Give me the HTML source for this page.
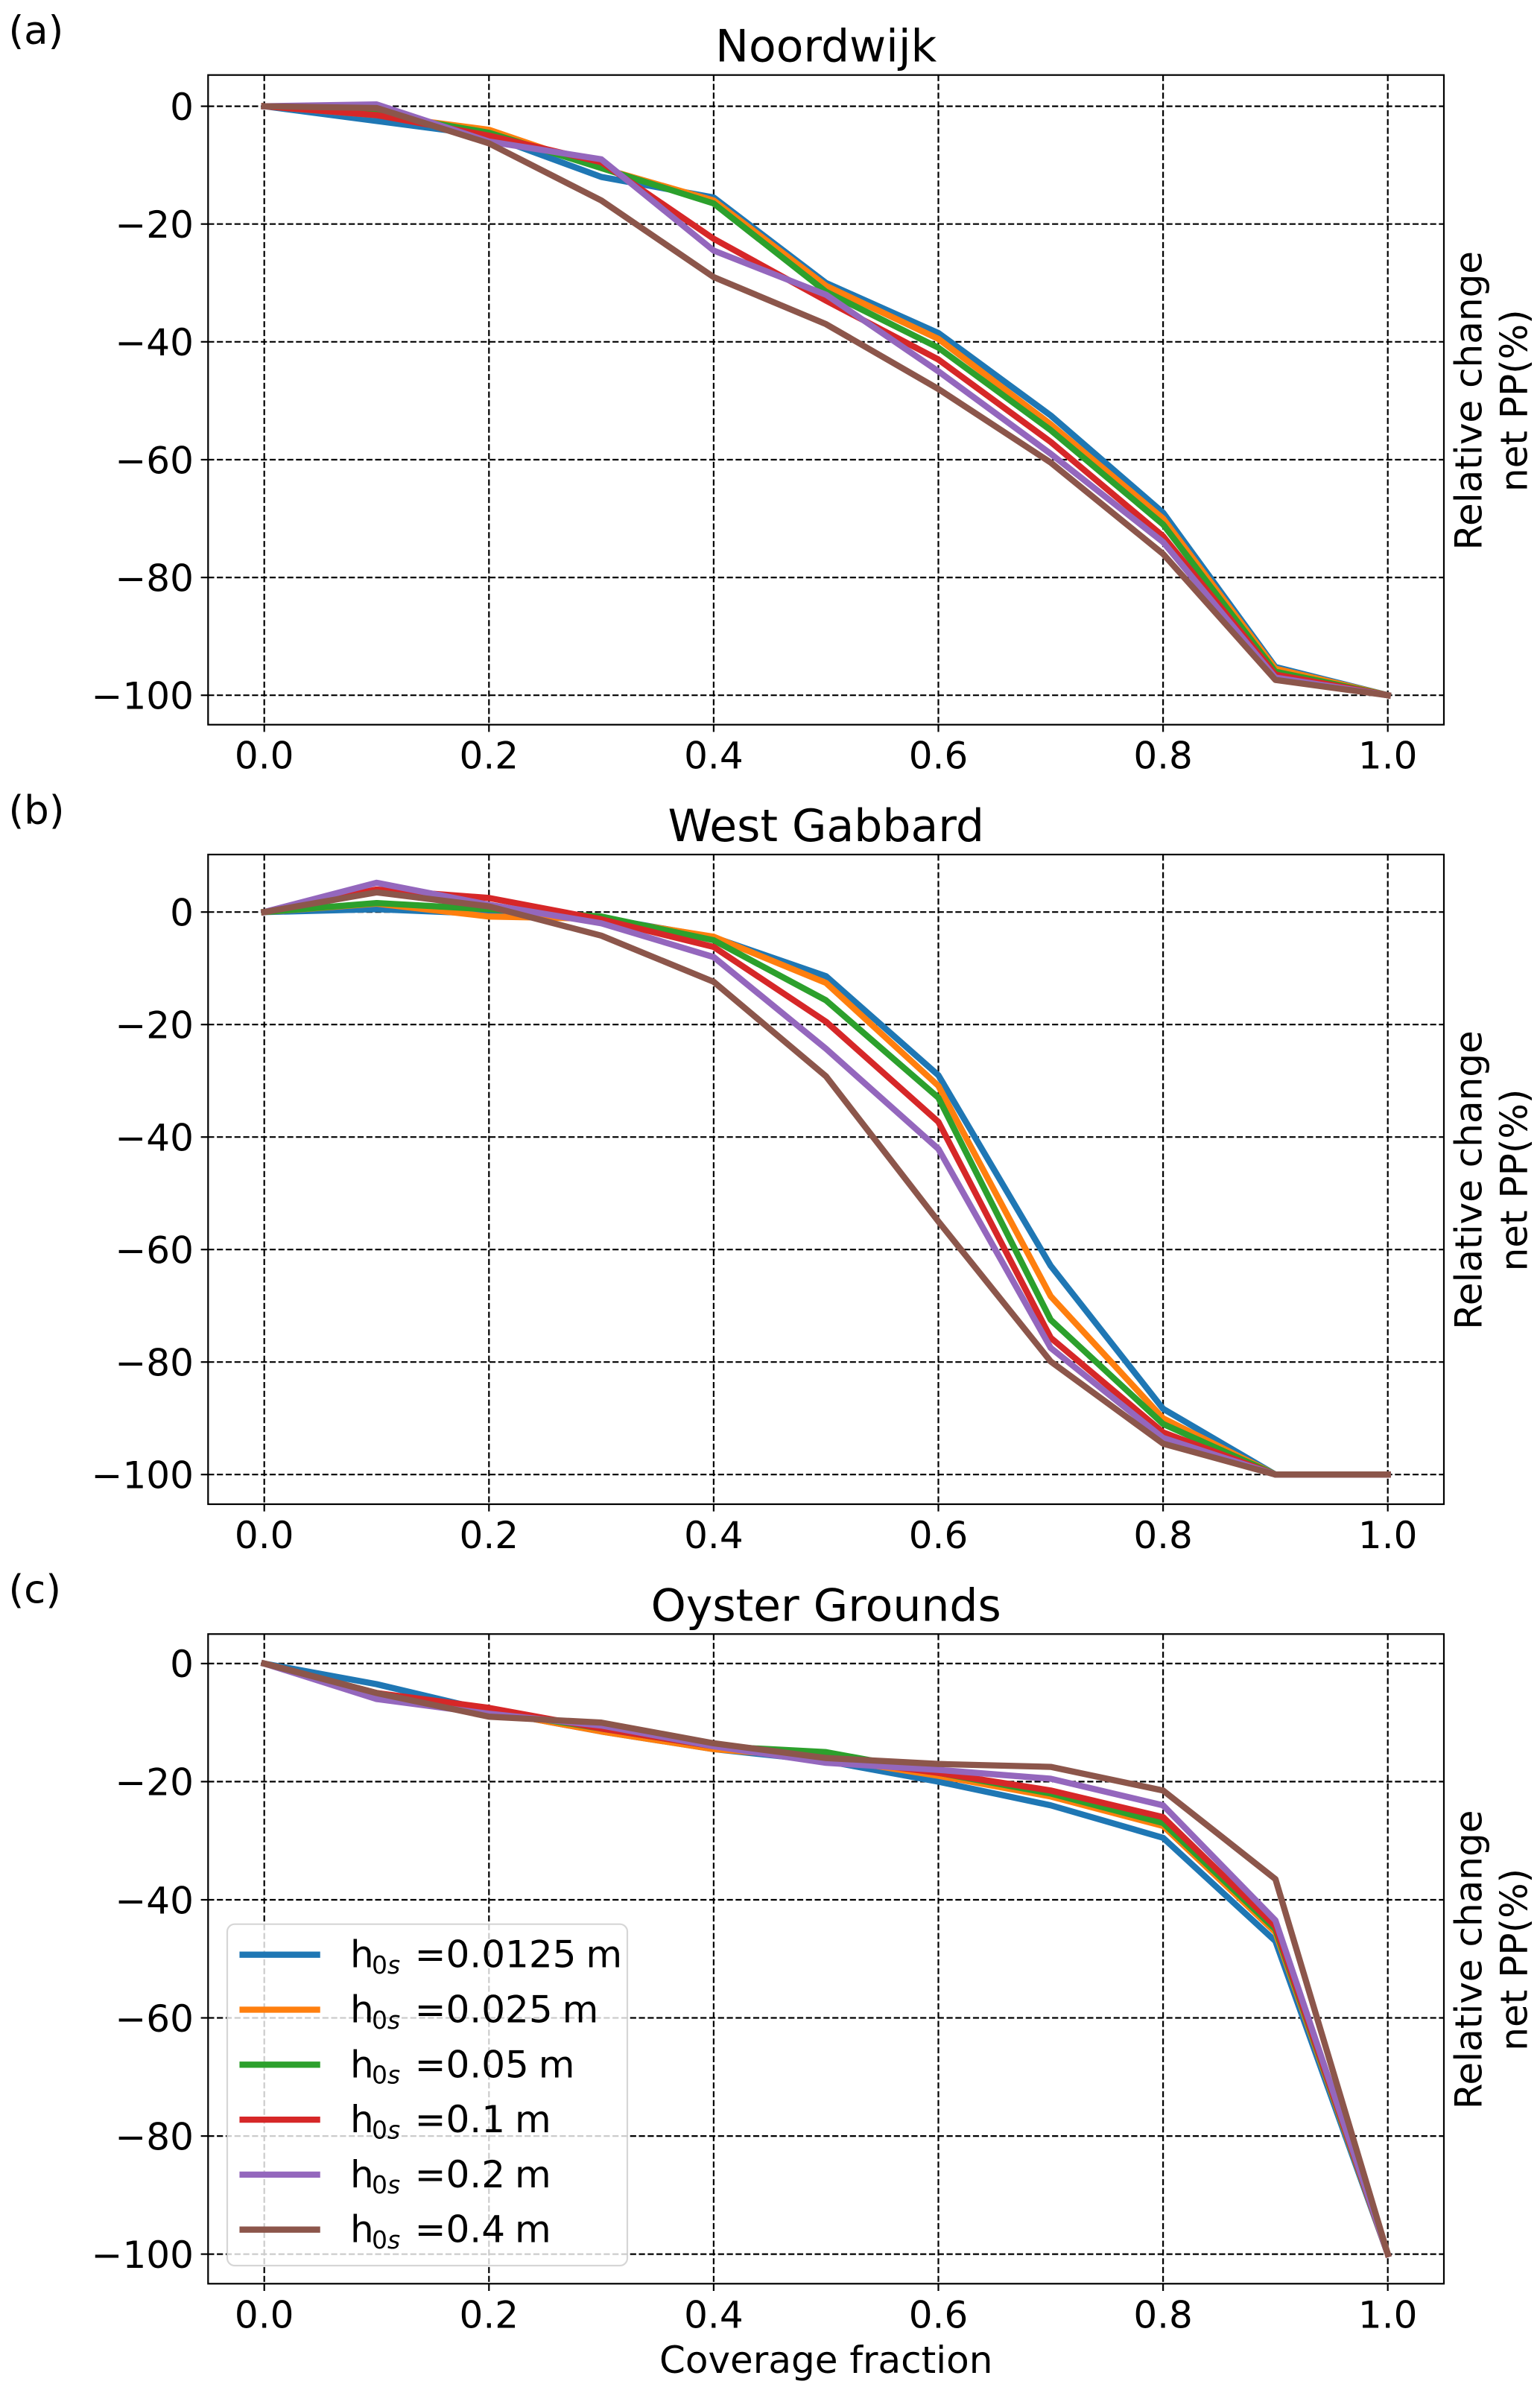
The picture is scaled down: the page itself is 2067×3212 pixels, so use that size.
<!DOCTYPE html>
<html>
<head>
<meta charset="utf-8">
<style>
html,body{margin:0;padding:0;background:#fff;}
svg{display:block;}
text{font-family:"DejaVu Sans","Liberation Sans",sans-serif;fill:#000;}
</style>
</head>
<body>
<svg xmlns="http://www.w3.org/2000/svg" width="2067" height="3212" viewBox="0 0 2067 3212">
<rect x="0" y="0" width="2067" height="3212" fill="#fff"/>

<!-- ================= PANEL A ================= -->
<g stroke="#000" stroke-width="2.2" stroke-dasharray="8.2,3.6" fill="none">
  <line x1="279.3" y1="142.6" x2="1938" y2="142.6"/>
  <line x1="279.3" y1="300.7" x2="1938" y2="300.7"/>
  <line x1="279.3" y1="458.8" x2="1938" y2="458.8"/>
  <line x1="279.3" y1="617.0" x2="1938" y2="617.0"/>
  <line x1="279.3" y1="775.1" x2="1938" y2="775.1"/>
  <line x1="279.3" y1="933.2" x2="1938" y2="933.2"/>
  <line x1="354.7" y1="100.7" x2="354.7" y2="972.7"/>
  <line x1="656.3" y1="100.7" x2="656.3" y2="972.7"/>
  <line x1="957.9" y1="100.7" x2="957.9" y2="972.7"/>
  <line x1="1259.5" y1="100.7" x2="1259.5" y2="972.7"/>
  <line x1="1561.1" y1="100.7" x2="1561.1" y2="972.7"/>
  <line x1="1862.7" y1="100.7" x2="1862.7" y2="972.7"/>
</g>
<g fill="none" stroke-width="8.3" stroke-linecap="square" stroke-linejoin="round">
  <polyline stroke="#1f77b4" points="354.7,142.6 505.5,162.4 656.3,182.1 807.1,237.5 957.9,265.1 1108.7,379.8 1259.5,447.0 1410.3,557.7 1561.1,688.1 1711.9,895.3 1862.7,933.2"/>
  <polyline stroke="#ff7f0e" points="354.7,142.6 505.5,154.5 656.3,174.2 807.1,225.6 957.9,269.1 1108.7,383.7 1259.5,454.9 1410.3,569.5 1561.1,696.0 1711.9,897.6 1862.7,933.2"/>
  <polyline stroke="#2ca02c" points="354.7,142.6 505.5,152.1 656.3,178.2 807.1,225.6 957.9,273.1 1108.7,391.6 1259.5,466.7 1410.3,577.4 1561.1,703.9 1711.9,901.6 1862.7,933.2"/>
  <polyline stroke="#d62728" points="354.7,142.6 505.5,154.5 656.3,182.1 807.1,217.7 957.9,320.5 1108.7,403.5 1259.5,482.6 1410.3,593.2 1561.1,719.7 1711.9,905.5 1862.7,933.2"/>
  <polyline stroke="#9467bd" points="354.7,142.6 505.5,140.2 656.3,190.0 807.1,213.8 957.9,336.3 1108.7,395.6 1259.5,498.4 1410.3,609.1 1561.1,727.6 1711.9,909.5 1862.7,933.2"/>
  <polyline stroke="#8c564b" points="354.7,142.6 505.5,145.0 656.3,192.4 807.1,269.1 957.9,371.9 1108.7,435.1 1259.5,522.1 1410.3,620.9 1561.1,743.5 1711.9,912.6 1862.7,933.2"/>
</g>
<g stroke="#000" stroke-width="2.2" fill="none">
  <rect x="279.3" y="100.7" width="1658.7" height="872"/>
  <line x1="269.6" y1="142.6" x2="279.3" y2="142.6"/>
  <line x1="269.6" y1="300.7" x2="279.3" y2="300.7"/>
  <line x1="269.6" y1="458.8" x2="279.3" y2="458.8"/>
  <line x1="269.6" y1="617.0" x2="279.3" y2="617.0"/>
  <line x1="269.6" y1="775.1" x2="279.3" y2="775.1"/>
  <line x1="269.6" y1="933.2" x2="279.3" y2="933.2"/>
  <line x1="354.7" y1="972.7" x2="354.7" y2="982.4"/>
  <line x1="656.3" y1="972.7" x2="656.3" y2="982.4"/>
  <line x1="957.9" y1="972.7" x2="957.9" y2="982.4"/>
  <line x1="1259.5" y1="972.7" x2="1259.5" y2="982.4"/>
  <line x1="1561.1" y1="972.7" x2="1561.1" y2="982.4"/>
  <line x1="1862.7" y1="972.7" x2="1862.7" y2="982.4"/>
</g>
<g font-size="50" text-anchor="end">
  <text x="259.9" y="160.9">0</text>
  <text x="259.9" y="319.0">−20</text>
  <text x="259.9" y="477.1">−40</text>
  <text x="259.9" y="635.3">−60</text>
  <text x="259.9" y="793.4">−80</text>
  <text x="259.9" y="951.5">−100</text>
</g>
<g font-size="50" text-anchor="middle">
  <text x="354.7" y="1031.7">0.0</text>
  <text x="656.3" y="1031.7">0.2</text>
  <text x="957.9" y="1031.7">0.4</text>
  <text x="1259.5" y="1031.7">0.6</text>
  <text x="1561.1" y="1031.7">0.8</text>
  <text x="1862.7" y="1031.7">1.0</text>
</g>
<text x="1108.7" y="82.7" font-size="60" text-anchor="middle">Noordwijk</text>
<text x="11.5" y="59" font-size="53">(a)</text>
<g font-size="50" text-anchor="middle">
  <text transform="translate(1988.5,537.7) rotate(-90)">Relative change</text>
  <text transform="translate(2049.5,537.7) rotate(-90)">net PP(%)</text>
</g>

<!-- ================= PANEL B ================= -->
<g stroke="#000" stroke-width="2.2" stroke-dasharray="8.2,3.6" fill="none">
  <line x1="279.3" y1="1224.2" x2="1938" y2="1224.2"/>
  <line x1="279.3" y1="1375.2" x2="1938" y2="1375.2"/>
  <line x1="279.3" y1="1526.2" x2="1938" y2="1526.2"/>
  <line x1="279.3" y1="1677.2" x2="1938" y2="1677.2"/>
  <line x1="279.3" y1="1828.2" x2="1938" y2="1828.2"/>
  <line x1="279.3" y1="1979.2" x2="1938" y2="1979.2"/>
  <line x1="354.7" y1="1147" x2="354.7" y2="2019"/>
  <line x1="656.3" y1="1147" x2="656.3" y2="2019"/>
  <line x1="957.9" y1="1147" x2="957.9" y2="2019"/>
  <line x1="1259.5" y1="1147" x2="1259.5" y2="2019"/>
  <line x1="1561.1" y1="1147" x2="1561.1" y2="2019"/>
  <line x1="1862.7" y1="1147" x2="1862.7" y2="2019"/>
</g>
<g fill="none" stroke-width="8.3" stroke-linecap="square" stroke-linejoin="round">
  <polyline stroke="#1f77b4" points="354.7,1224.2 505.5,1220.4 656.3,1226.5 807.1,1231.8 957.9,1258.2 1108.7,1310.3 1259.5,1443.2 1410.3,1699.1 1561.1,1890.9 1711.9,1979.2 1862.7,1979.2"/>
  <polyline stroke="#ff7f0e" points="354.7,1224.2 505.5,1212.9 656.3,1230.2 807.1,1233.3 957.9,1257.4 1108.7,1319.3 1259.5,1457.5 1410.3,1739.9 1561.1,1903.7 1711.9,1979.2 1862.7,1979.2"/>
  <polyline stroke="#2ca02c" points="354.7,1224.2 505.5,1212.1 656.3,1220.4 807.1,1230.2 957.9,1262.0 1108.7,1342.7 1259.5,1473.4 1410.3,1771.6 1561.1,1911.3 1711.9,1979.2 1862.7,1979.2"/>
  <polyline stroke="#d62728" points="354.7,1224.2 505.5,1194.0 656.3,1205.3 807.1,1234.0 957.9,1271.0 1108.7,1371.4 1259.5,1505.8 1410.3,1795.7 1561.1,1922.6 1711.9,1979.2 1862.7,1979.2"/>
  <polyline stroke="#9467bd" points="354.7,1224.2 505.5,1184.9 656.3,1214.4 807.1,1239.3 957.9,1284.6 1108.7,1407.7 1259.5,1542.1 1410.3,1809.3 1561.1,1930.1 1711.9,1979.2 1862.7,1979.2"/>
  <polyline stroke="#8c564b" points="354.7,1224.2 505.5,1197.8 656.3,1216.6 807.1,1255.9 957.9,1317.8 1108.7,1444.7 1259.5,1639.5 1410.3,1827.5 1561.1,1937.7 1711.9,1979.2 1862.7,1979.2"/>
</g>
<g stroke="#000" stroke-width="2.2" fill="none">
  <rect x="279.3" y="1147" width="1658.7" height="872"/>
  <line x1="269.6" y1="1224.2" x2="279.3" y2="1224.2"/>
  <line x1="269.6" y1="1375.2" x2="279.3" y2="1375.2"/>
  <line x1="269.6" y1="1526.2" x2="279.3" y2="1526.2"/>
  <line x1="269.6" y1="1677.2" x2="279.3" y2="1677.2"/>
  <line x1="269.6" y1="1828.2" x2="279.3" y2="1828.2"/>
  <line x1="269.6" y1="1979.2" x2="279.3" y2="1979.2"/>
  <line x1="354.7" y1="2019" x2="354.7" y2="2028.7"/>
  <line x1="656.3" y1="2019" x2="656.3" y2="2028.7"/>
  <line x1="957.9" y1="2019" x2="957.9" y2="2028.7"/>
  <line x1="1259.5" y1="2019" x2="1259.5" y2="2028.7"/>
  <line x1="1561.1" y1="2019" x2="1561.1" y2="2028.7"/>
  <line x1="1862.7" y1="2019" x2="1862.7" y2="2028.7"/>
</g>
<g font-size="50" text-anchor="end">
  <text x="259.9" y="1242.5">0</text>
  <text x="259.9" y="1393.5">−20</text>
  <text x="259.9" y="1544.5">−40</text>
  <text x="259.9" y="1695.5">−60</text>
  <text x="259.9" y="1846.5">−80</text>
  <text x="259.9" y="1997.5">−100</text>
</g>
<g font-size="50" text-anchor="middle">
  <text x="354.7" y="2078">0.0</text>
  <text x="656.3" y="2078">0.2</text>
  <text x="957.9" y="2078">0.4</text>
  <text x="1259.5" y="2078">0.6</text>
  <text x="1561.1" y="2078">0.8</text>
  <text x="1862.7" y="2078">1.0</text>
</g>
<text x="1108.7" y="1129" font-size="60" text-anchor="middle">West Gabbard</text>
<text x="11.5" y="1105.3" font-size="53">(b)</text>
<g font-size="50" text-anchor="middle">
  <text transform="translate(1988.5,1584) rotate(-90)">Relative change</text>
  <text transform="translate(2049.5,1584) rotate(-90)">net PP(%)</text>
</g>

<!-- ================= PANEL C ================= -->
<g stroke="#000" stroke-width="2.2" stroke-dasharray="8.2,3.6" fill="none">
  <line x1="279.3" y1="2232.9" x2="1938" y2="2232.9"/>
  <line x1="279.3" y1="2391.4" x2="1938" y2="2391.4"/>
  <line x1="279.3" y1="2550.0" x2="1938" y2="2550.0"/>
  <line x1="279.3" y1="2708.5" x2="1938" y2="2708.5"/>
  <line x1="279.3" y1="2867.1" x2="1938" y2="2867.1"/>
  <line x1="279.3" y1="3025.6" x2="1938" y2="3025.6"/>
  <line x1="354.7" y1="2193.3" x2="354.7" y2="3065.3"/>
  <line x1="656.3" y1="2193.3" x2="656.3" y2="3065.3"/>
  <line x1="957.9" y1="2193.3" x2="957.9" y2="3065.3"/>
  <line x1="1259.5" y1="2193.3" x2="1259.5" y2="3065.3"/>
  <line x1="1561.1" y1="2193.3" x2="1561.1" y2="3065.3"/>
  <line x1="1862.7" y1="2193.3" x2="1862.7" y2="3065.3"/>
</g>
<g fill="none" stroke-width="8.3" stroke-linecap="square" stroke-linejoin="round">
  <polyline stroke="#1f77b4" points="354.7,2232.9 505.5,2260.6 656.3,2296.3 807.1,2324.1 957.9,2347.8 1108.7,2363.7 1259.5,2391.4 1410.3,2423.2 1561.1,2466.8 1711.9,2605.5 1862.7,3025.6"/>
  <polyline stroke="#ff7f0e" points="354.7,2232.9 505.5,2272.5 656.3,2296.3 807.1,2324.1 957.9,2347.8 1108.7,2359.7 1259.5,2383.5 1410.3,2411.3 1561.1,2450.9 1711.9,2593.6 1862.7,3025.6"/>
  <polyline stroke="#2ca02c" points="354.7,2232.9 505.5,2272.5 656.3,2296.3 807.1,2320.1 957.9,2343.9 1108.7,2351.8 1259.5,2379.6 1410.3,2407.3 1561.1,2446.9 1711.9,2589.6 1862.7,3025.6"/>
  <polyline stroke="#d62728" points="354.7,2232.9 505.5,2272.5 656.3,2292.4 807.1,2320.1 957.9,2343.9 1108.7,2359.7 1259.5,2379.6 1410.3,2403.3 1561.1,2439.0 1711.9,2585.7 1862.7,3025.6"/>
  <polyline stroke="#9467bd" points="354.7,2232.9 505.5,2280.5 656.3,2300.3 807.1,2316.1 957.9,2343.9 1108.7,2366.1 1259.5,2375.6 1410.3,2387.5 1561.1,2423.2 1711.9,2577.7 1862.7,3025.6"/>
  <polyline stroke="#8c564b" points="354.7,2232.9 505.5,2272.5 656.3,2304.2 807.1,2312.2 957.9,2339.9 1108.7,2359.7 1259.5,2367.7 1410.3,2371.6 1561.1,2403.3 1711.9,2522.2 1862.7,3025.6"/>
</g>
<g stroke="#000" stroke-width="2.2" fill="none">
  <rect x="279.3" y="2193.3" width="1658.7" height="872"/>
  <line x1="269.6" y1="2232.9" x2="279.3" y2="2232.9"/>
  <line x1="269.6" y1="2391.4" x2="279.3" y2="2391.4"/>
  <line x1="269.6" y1="2550.0" x2="279.3" y2="2550.0"/>
  <line x1="269.6" y1="2708.5" x2="279.3" y2="2708.5"/>
  <line x1="269.6" y1="2867.1" x2="279.3" y2="2867.1"/>
  <line x1="269.6" y1="3025.6" x2="279.3" y2="3025.6"/>
  <line x1="354.7" y1="3065.3" x2="354.7" y2="3075"/>
  <line x1="656.3" y1="3065.3" x2="656.3" y2="3075"/>
  <line x1="957.9" y1="3065.3" x2="957.9" y2="3075"/>
  <line x1="1259.5" y1="3065.3" x2="1259.5" y2="3075"/>
  <line x1="1561.1" y1="3065.3" x2="1561.1" y2="3075"/>
  <line x1="1862.7" y1="3065.3" x2="1862.7" y2="3075"/>
</g>
<g font-size="50" text-anchor="end">
  <text x="259.9" y="2251.2">0</text>
  <text x="259.9" y="2409.7">−20</text>
  <text x="259.9" y="2568.3">−40</text>
  <text x="259.9" y="2726.8">−60</text>
  <text x="259.9" y="2885.4">−80</text>
  <text x="259.9" y="3043.9">−100</text>
</g>
<g font-size="50" text-anchor="middle">
  <text x="354.7" y="3124.3">0.0</text>
  <text x="656.3" y="3124.3">0.2</text>
  <text x="957.9" y="3124.3">0.4</text>
  <text x="1259.5" y="3124.3">0.6</text>
  <text x="1561.1" y="3124.3">0.8</text>
  <text x="1862.7" y="3124.3">1.0</text>
</g>
<text x="1108.7" y="2175.3" font-size="60" text-anchor="middle">Oyster Grounds</text>
<text x="11.5" y="2151.6" font-size="53">(c)</text>
<g font-size="50" text-anchor="middle">
  <text transform="translate(1988.5,2630.3) rotate(-90)">Relative change</text>
  <text transform="translate(2049.5,2630.3) rotate(-90)">net PP(%)</text>
</g>
<text x="1108.7" y="3185" font-size="50" text-anchor="middle">Coverage fraction</text>

<!-- Legend -->
<rect x="305" y="2582.7" width="537" height="458.3" rx="10" ry="10" fill="#fff" fill-opacity="0.8" stroke="#cccccc" stroke-opacity="0.8" stroke-width="2.2"/>
<g stroke-width="8.3" stroke-linecap="square">
  <line x1="325.6" y1="2623.7" x2="425.6" y2="2623.7" stroke="#1f77b4"/>
  <line x1="325.6" y1="2697.5" x2="425.6" y2="2697.5" stroke="#ff7f0e"/>
  <line x1="325.6" y1="2771.3" x2="425.6" y2="2771.3" stroke="#2ca02c"/>
  <line x1="325.6" y1="2845.1" x2="425.6" y2="2845.1" stroke="#d62728"/>
  <line x1="325.6" y1="2918.9" x2="425.6" y2="2918.9" stroke="#9467bd"/>
  <line x1="325.6" y1="2992.7" x2="425.6" y2="2992.7" stroke="#8c564b"/>
</g>
<g font-size="50">
  <text x="470" y="2640.7">h</text>
  <text x="499" y="2649" font-size="33">0<tspan font-style="italic">s</tspan></text>
  <text x="556.6" y="2640.7">=0.0125</text>
  <text x="786.4" y="2640.7">m</text>

  <text x="470" y="2714.5">h</text>
  <text x="499" y="2722.8" font-size="33">0<tspan font-style="italic">s</tspan></text>
  <text x="556.6" y="2714.5">=0.025</text>
  <text x="754.6" y="2714.5">m</text>

  <text x="470" y="2788.3">h</text>
  <text x="499" y="2796.6" font-size="33">0<tspan font-style="italic">s</tspan></text>
  <text x="556.6" y="2788.3">=0.05</text>
  <text x="722.8" y="2788.3">m</text>

  <text x="470" y="2862.1">h</text>
  <text x="499" y="2870.4" font-size="33">0<tspan font-style="italic">s</tspan></text>
  <text x="556.6" y="2862.1">=0.1</text>
  <text x="691" y="2862.1">m</text>

  <text x="470" y="2935.9">h</text>
  <text x="499" y="2944.2" font-size="33">0<tspan font-style="italic">s</tspan></text>
  <text x="556.6" y="2935.9">=0.2</text>
  <text x="691" y="2935.9">m</text>

  <text x="470" y="3009.7">h</text>
  <text x="499" y="3018" font-size="33">0<tspan font-style="italic">s</tspan></text>
  <text x="556.6" y="3009.7">=0.4</text>
  <text x="691" y="3009.7">m</text>
</g>
</svg>
</body>
</html>
